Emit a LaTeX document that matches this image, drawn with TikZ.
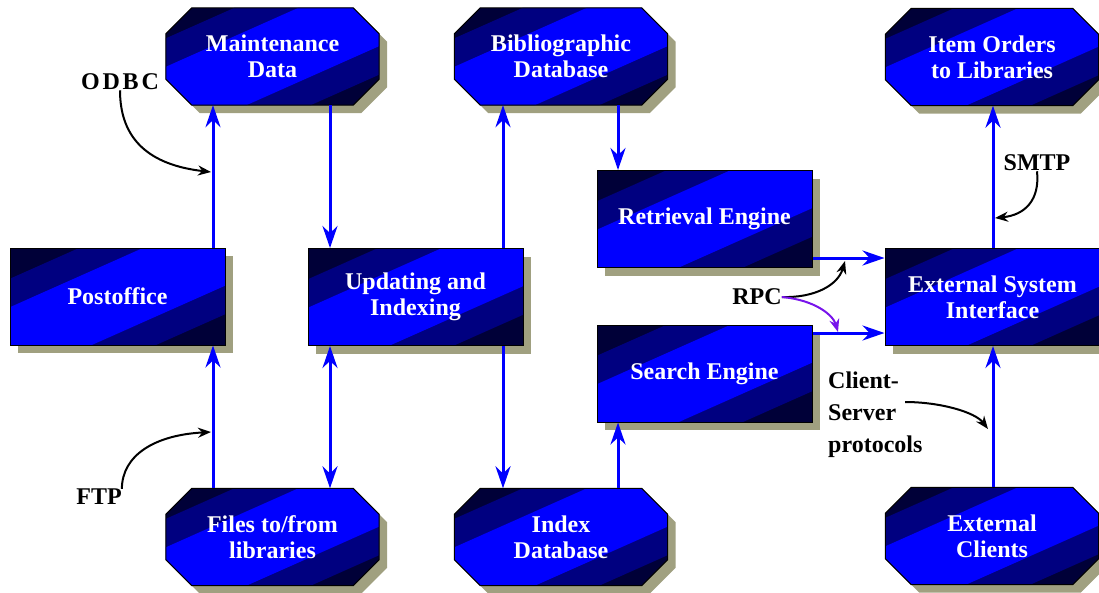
\documentclass[tikz,border=0pt]{standalone}
\usepackage{fontspec}
\setmainfont{Liberation Serif}
\usetikzlibrary{shadows,arrows.meta,backgrounds}
\definecolor{bandblue}{RGB}{0,0,255}
\definecolor{bandnavy}{RGB}{0,0,128}
\definecolor{banddark}{RGB}{0,0,56}
\definecolor{khaki}{RGB}{160,160,128}
\definecolor{rpcviolet}{RGB}{120,20,235}

\begin{document}
\begin{tikzpicture}[x=1pt, y=-1pt,
    painted/.style={fill=banddark, draw=black, line width=1pt,
      drop shadow={shadow xshift=8pt, shadow yshift=-8pt, fill=khaki, opacity=1},
      path picture={
        \fill[bandnavy] (path picture bounding box.center) ++(158.3pt,136.1pt)
          -- ++(-365.4pt,-162.6pt) -- ++(48.8pt,-109.6pt) -- ++(365.4pt,162.6pt) -- cycle;
        \fill[bandblue] (path picture bounding box.center) ++(169.0pt,112.4pt)
          -- ++(-365.4pt,-162.6pt) -- ++(27.6pt,-62.0pt) -- ++(365.4pt,162.6pt) -- cycle;}},
    boxtext/.style={text=white, font=\bfseries\fontsize{24}{26}\selectfont,
      align=center, inner sep=0pt},
    box/.style={painted, boxtext, rectangle, minimum width=215pt, minimum height=97pt},
    store/.style={boxtext, rectangle, minimum width=213pt, minimum height=97pt},
    flow/.style={draw=bandblue, line width=3pt},
    >={Stealth[length=22pt, width=15pt]},
    note/.style={font=\bfseries\fontsize{24}{32}\selectfont, inner sep=0pt},
    pointer/.style={line width=2pt, -{Stealth[length=13pt, width=10pt]}}]
  \useasboundingbox (0,0) rectangle (1099,592);

  % data stores (octagons are painted behind them below)
  \node[store] (maint) at (272.5,56.5) {Maintenance\\Data};
  \node[store] (biblio) at (561,56.5) {Bibliographic\\Database};
  \node[store] (orders) at (992,57) {Item Orders\\to Libraries};
  \node[store] (files) at (272.5,537) {Files to/from\\libraries};
  \node[store] (index) at (561,537) {Index\\Database};
  \node[store] (clients) at (992,536) {External\\Clients};

  \begin{scope}[on background layer]
    \foreach \s in {maint,biblio,orders,files,index,clients}
      \path[painted] ([xshift=26pt]\s.north west) -- ([xshift=-26pt]\s.north east)
        -- ([yshift=-26pt]\s.north east) -- ([yshift=26pt]\s.south east)
        -- ([xshift=-26pt]\s.south east) -- ([xshift=26pt]\s.south west)
        -- ([yshift=26pt]\s.south west) -- ([yshift=-26pt]\s.north west) -- cycle;
  \end{scope}

  % processes
  \node[box] (post) at (117.5,296.5) {Postoffice};
  \node[box] (update) at (415.5,297) {Updating and\\Indexing};
  \node[box] (retr) at (704.5,219) {Retrieval Engine};
  \node[box] (search) at (704.5,373.5) {Search Engine};
  \node[box] (esi) at (992.5,297) {External System\\Interface};

  \coordinate (xa) at (213,0);
  \coordinate (xb) at (330,0);
  \coordinate (xc) at (503,0);
  \coordinate (xd) at (618,0);
  \coordinate (xe) at (993,0);
  \coordinate (ya) at (0,258);
  \coordinate (yb) at (0,333);

  \draw[flow, ->] (post.north -| xa) -- (maint.south -| xa);
  \draw[flow, ->] (files.north -| xa) -- (post.south -| xa);
  \draw[flow, ->] (maint.south -| xb) -- (update.north -| xb);
  \draw[flow, <->] (update.south -| xb) -- (files.north -| xb);
  \draw[flow, ->] (update.north -| xc) -- (biblio.south -| xc);
  \draw[flow, ->] (update.south -| xc) -- (index.north -| xc);
  \draw[flow, ->] (biblio.south -| xd) -- (retr.north -| xd);
  \draw[flow, ->] (index.north -| xd) -- (search.south -| xd);
  \draw[flow, ->] (retr.east |- ya) -- (esi.west |- ya);
  \draw[flow, ->] (search.east |- yb) -- (esi.west |- yb);
  \draw[flow, ->] (esi.north -| xe) -- (orders.south -| xe);
  \draw[flow, ->] (clients.north -| xe) -- (esi.south -| xe);

  % protocol labels
  \node[note] (odbc) at (120,82) {\addfontfeature{LetterSpace=12}ODBC};
  \node[note] (ftp) at (99,497) {FTP};
  \node[note] (rpc) at (757,297) {RPC};
  \node[note] (smtp) at (1037,163) {SMTP};
  \node[note, align=left, anchor=west] (csp) at (828,415) {Client-\\Server\\protocols};

  \coordinate (odbcend) at (211,172);
  \coordinate (ftpend) at (211,432);
  \coordinate (smtpend) at (995,218);
  \coordinate (rpcup) at (845,261);
  \coordinate (rpcdown) at (838,332);
  \coordinate (cspstart) at (905,402);
  \coordinate (cspend) at (988,429);

  \draw[pointer] (odbc.south) .. controls (120,140) and (150,165) .. (odbcend);
  \draw[pointer] (ftp.north east) .. controls (122,455) and (155,435) .. (ftpend);
  \draw[pointer] (smtp.south) .. controls (1040,200) and (1025,215) .. (smtpend);
  \draw[pointer] (rpc.east) .. controls (815,298) and (838,285) .. (rpcup);
  \draw[pointer, rpcviolet] (rpc.east) .. controls (815,300) and (833,315) .. (rpcdown);
  \draw[pointer] (cspstart) .. controls (940,402) and (975,412) .. (cspend);
\end{tikzpicture}
\end{document}
